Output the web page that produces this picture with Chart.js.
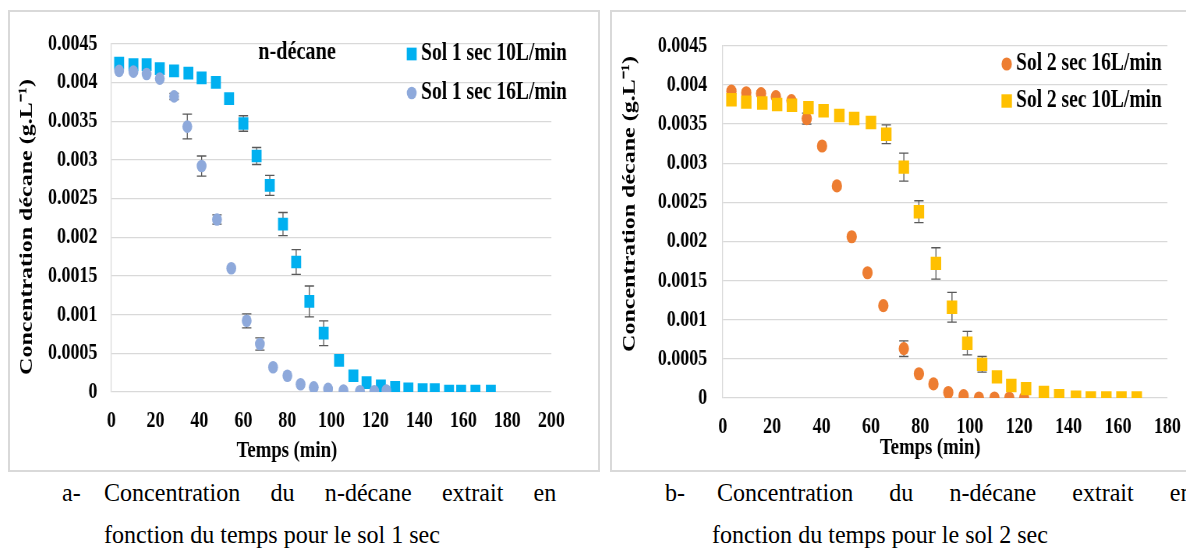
<!DOCTYPE html>
<html lang="fr">
<head>
<meta charset="utf-8">
<title>Concentration du n-décane</title>
<script src="https://cdn.jsdelivr.net/npm/chart.js@4.4.1/dist/chart.umd.min.js"></script>
<style>
  html, body { margin: 0; padding: 0; background: #fff; width: 1186px; height: 556px; overflow: hidden; }
  .frame { position: absolute; top: 10px; width: 592px; height: 462px; box-sizing: border-box;
           border: 2px solid #d9d9d9; overflow: hidden; background: #fff; }
  .squeeze { width: 754px; height: 458px; transform: scaleX(0.78); transform-origin: 0 0; }
  .cap { position: absolute; font-family: "Liberation Serif", "Times New Roman", serif; font-size: 26px;
         line-height: 42px; color: #000; white-space: nowrap; transform: scaleX(0.925); transform-origin: 0 0; }
  .just { white-space: normal; text-align: justify; text-align-last: justify; }
</style>
</head>
<body>
<div class="frame" style="left:8px"><div class="squeeze"><canvas id="sol1" width="754" height="458"></canvas></div></div>
<div class="frame" style="left:610px"><div class="squeeze"><canvas id="sol2" width="754" height="458"></canvas></div></div>

<div class="cap" style="left:62px; top:472px">a-</div>
<div class="cap just" style="left:104px; top:472px; width:489px">Concentration du n-décane extrait en</div>
<div class="cap" style="left:104px; top:514px">fonction du temps pour le sol 1 sec</div>

<div class="cap" style="left:665px; top:472px">b-</div>
<div class="cap just" style="left:717px; top:472px; width:514px">Concentration du n-décane extrait en</div>
<div class="cap" style="left:712px; top:514px">fonction du temps pour le sol 2 sec</div>

<script>
// tick labels
const yTickLabels = ['0', '0.0005', '0.001', '0.0015', '0.002', '0.0025', '0.003', '0.0035', '0.004', '0.0045'];

// sol 1 sec, 10 L/min (squares)
const sol1Temps10 = [3.5, 10, 16, 22, 28.5, 35, 41, 47.5, 53.5, 60, 66, 72, 78, 84, 90, 96.5, 103.5, 110, 116, 122.5, 129, 135, 141.5, 147, 153.5, 159, 165.5, 172.5];
const sol1Conc10 = [0.00425, 0.00423, 0.00423, 0.00418, 0.00415, 0.00412, 0.00406, 0.00400, 0.00379, 0.00347, 0.00305, 0.00267, 0.00217, 0.00168, 0.00117, 0.00076, 0.00041, 0.00021, 0.00012, 0.00008, 0.00006, 0.00004, 0.00003, 0.00003, 0.00001, 0.00001, 0.00001, 0.00001];
const sol1Err10 = [0, 0, 0, 0, 0, 0, 0, 0, 0, 0.0001, 0.00011, 0.00013, 0.00015, 0.00016, 0.0002, 0.00016, 0, 0, 0, 0, 0, 0, 0, 0, 0, 0, 0, 0];

// sol 1 sec, 16 L/min (circles)
const sol1Temps16 = [3.5, 10, 16, 22, 28.5, 34.5, 41, 48, 54.5, 61.5, 67.5, 73.5, 80, 86, 92, 98.5, 105.5, 113, 119.5, 125];
const sol1Conc16 = [0.00415, 0.00414, 0.00411, 0.00405, 0.00382, 0.00343, 0.00292, 0.00223, 0.00160, 0.00092, 0.00062, 0.00032, 0.00021, 0.0001, 0.00006, 0.00004, 0.00002, 0.00001, 0.00001, 0.00002];
const sol1Err16 = [0, 0, 0, 0, 0.00004, 0.00016, 0.00013, 0.00006, 0, 0.00009, 0.00008, 0, 0, 0, 0, 0, 0, 0, 0, 0];

// sol 2 sec, 16 L/min (circles)
const sol2Temps16 = [3.5, 9.5, 15.5, 21.5, 27.8, 34, 40.2, 46.2, 52.2, 58.6, 65, 73.3, 79.4, 85.3, 91.3, 97.5, 103.7, 110, 116, 122];
const sol2Conc16 = [0.00392, 0.0039, 0.00389, 0.00385, 0.0038, 0.00357, 0.00322, 0.00271, 0.00206, 0.0016, 0.00118, 0.00063, 0.00031, 0.00018, 0.00007, 0.00003, 0, 0, 0, 0];
const sol2Err16 = [0.00003, 0.00003, 0.00003, 0, 0, 0.00007, 0, 0, 0, 0, 0, 0.0001, 0, 0, 0, 0, 0, 0, 0, 0];

// sol 2 sec, 10 L/min (squares)
const sol2Temps10 = [3.5, 9.5, 16, 22, 28, 34.7, 40.8, 47.2, 53.2, 60, 66.2, 73.3, 79.4, 86.3, 92.8, 99, 105, 111, 116.8, 122.8, 130, 136.2, 143, 149, 155.3, 161.4, 167.6];
const sol2Conc10 = [0.00381, 0.00378, 0.00377, 0.00375, 0.00374, 0.00371, 0.00367, 0.00361, 0.00357, 0.00352, 0.00337, 0.00295, 0.00238, 0.00172, 0.00116, 0.0007, 0.00043, 0.00027, 0.00016, 0.00012, 0.00007, 0.00003, 0.00001, 0, 0, 0, 0];
const sol2Err10 = [0, 0, 0, 0, 0, 0, 0, 0, 0, 0, 0.00012, 0.00018, 0.00014, 0.0002, 0.00019, 0.00015, 0.0001, 0, 0, 0, 0, 0, 0, 0, 0, 0, 0];

const SERIF = '"Liberation Serif", "Times New Roman", serif';
const pts = (ts, cs) => ts.map((t, i) => ({ x: t, y: cs[i] }));

// vertical error bars, drawn behind the markers
const errorBars = {
  id: 'errorBars',
  beforeDatasetsDraw(chart) {
    const { ctx, scales: { x, y } } = chart;
    ctx.save();
    ctx.strokeStyle = '#595959';
    ctx.lineWidth = 1.3;
    chart.data.datasets.forEach(ds => {
      if (!ds.errors) return;
      ds.data.forEach((p, i) => {
        const e = ds.errors[i];
        if (!e) return;
        const px = x.getPixelForValue(p.x);
        const top = y.getPixelForValue(p.y + e);
        const bot = y.getPixelForValue(p.y - e);
        ctx.beginPath();
        ctx.moveTo(px, top); ctx.lineTo(px, bot);
        ctx.moveTo(px - 6, top); ctx.lineTo(px + 6, top);
        ctx.moveTo(px - 6, bot); ctx.lineTo(px + 6, bot);
        ctx.stroke();
      });
    });
    ctx.restore();
  }
};

// titles and the legend that sits inside the plot area
const overlayText = {
  id: 'overlayText',
  afterDraw(chart, args, opts) {
    const { ctx } = chart;
    ctx.save();
    ctx.fillStyle = '#000';
    ctx.textBaseline = 'middle';
    (opts.items || []).forEach(it => {
      ctx.save();
      ctx.font = it.font;
      ctx.textAlign = 'center';
      ctx.translate(it.x, it.y);
      if (it.rotate) ctx.rotate(it.rotate);
      ctx.fillText(it.text, 0, 0);
      ctx.restore();
    });
    const lg = opts.legend;
    if (lg) {
      lg.order.forEach((di, row) => {
        const ds = chart.data.datasets[di];
        const y = lg.y + row * lg.rowGap;
        ctx.fillStyle = ds.backgroundColor;
        ctx.beginPath();
        if (ds.pointStyle === 'rect') {
          const s = ds.pointRadius * Math.SQRT1_2;
          ctx.rect(lg.x - s, y - s, 2 * s, 2 * s);
        } else {
          ctx.arc(lg.x, y, ds.pointRadius, 0, Math.PI * 2);
        }
        ctx.fill();
        ctx.fillStyle = '#000';
        ctx.font = 'bold 25px ' + SERIF;
        ctx.textAlign = 'left';
        ctx.fillText(ds.label, lg.textX, y);
      });
    }
    ctx.restore();
  }
};

function makeOptions(cfg) {
  return {
    responsive: false,
    animation: false,
    devicePixelRatio: 1,
    layout: { padding: { left: 0, right: cfg.padRight, top: 23, bottom: 0 } },
    plugins: {
      legend: { display: false },
      tooltip: { enabled: false },
      overlayText: cfg.overlay
    },
    scales: {
      x: {
        type: 'linear',
        min: 0,
        max: cfg.xMax,
        grid: { display: false, drawTicks: false },
        border: { display: false },
        ticks: { stepSize: 20, maxRotation: 0, autoSkip: false, padding: 15, color: '#000',
                 font: { family: SERIF, size: 23, weight: 'bold' } },
        afterFit: s => { s.height = cfg.xHeight; }
      },
      y: {
        min: 0,
        max: 0.0045,
        grid: { color: '#d9d9d9', lineWidth: 1.3, drawTicks: false },
        border: { display: true, color: '#d9d9d9', width: 1.3 },
        ticks: { stepSize: 0.0005, padding: cfg.yPad, color: '#000',
                 font: { family: SERIF, size: 23, weight: 'bold' },
                 callback: (v, i) => yTickLabels[i] },
        afterFit: s => { s.width = cfg.yWidth; }
      }
    }
  };
}

new Chart(document.getElementById('sol1'), {
  type: 'scatter',
  data: {
    datasets: [
      { label: 'Sol 1 sec 10L/min', data: pts(sol1Temps10, sol1Conc10), errors: sol1Err10,
        pointStyle: 'rect', pointRadius: 9, backgroundColor: '#00B0F0', borderColor: '#00B0F0',
        pointBorderWidth: 0, order: 2 },
      { label: 'Sol 1 sec 16L/min', data: pts(sol1Temps16, sol1Conc16), errors: sol1Err16,
        pointStyle: 'circle', pointRadius: 6.3, backgroundColor: '#8EA9DB', borderColor: '#8EA9DB',
        pointBorderWidth: 0, order: 1 }
    ]
  },
  options: makeOptions({
    xMax: 200, padRight: 60, xHeight: 78, yWidth: 130, yPad: 18,
    overlay: {
      items: [
        { text: 'n-décane', x: 368, y: 40, font: 'bold 26px ' + SERIF },
        { text: 'Temps (min)', x: 355, y: 439, font: 'bold 24px ' + SERIF },
        { text: 'Concentration décane (g.L⁻¹)', x: 22, y: 215, rotate: -Math.PI / 2, font: 'bold 24px ' + SERIF }
      ],
      legend: { order: [0, 1], x: 515, textX: 527, y: 42, rowGap: 39 }
    }
  }),
  plugins: [errorBars, overlayText]
});

new Chart(document.getElementById('sol2'), {
  type: 'scatter',
  data: {
    datasets: [
      { label: 'Sol 2 sec 16L/min', data: pts(sol2Temps16, sol2Conc16), errors: sol2Err16,
        pointStyle: 'circle', pointRadius: 6.6, backgroundColor: '#ED7D31', borderColor: '#ED7D31',
        pointBorderWidth: 0, order: 2 },
      { label: 'Sol 2 sec 10L/min', data: pts(sol2Temps10, sol2Conc10), errors: sol2Err10,
        pointStyle: 'rect', pointRadius: 9.5, backgroundColor: '#FFC000', borderColor: '#FFC000',
        pointBorderWidth: 0, order: 1 }
    ]
  },
  options: makeOptions({
    xMax: 180, padRight: 42, xHeight: 72, yWidth: 142, yPad: 20,
    overlay: {
      items: [
        { text: 'Temps (min)', x: 408, y: 436, font: 'bold 24px ' + SERIF },
        { text: 'Concentration décane (g.L⁻¹)', x: 23, y: 192, rotate: -Math.PI / 2, font: 'bold 24px ' + SERIF }
      ],
      legend: { order: [0, 1], x: 506, textX: 518, y: 52, rowGap: 37 }
    }
  }),
  plugins: [errorBars, overlayText]
});
</script>
</body>
</html>
